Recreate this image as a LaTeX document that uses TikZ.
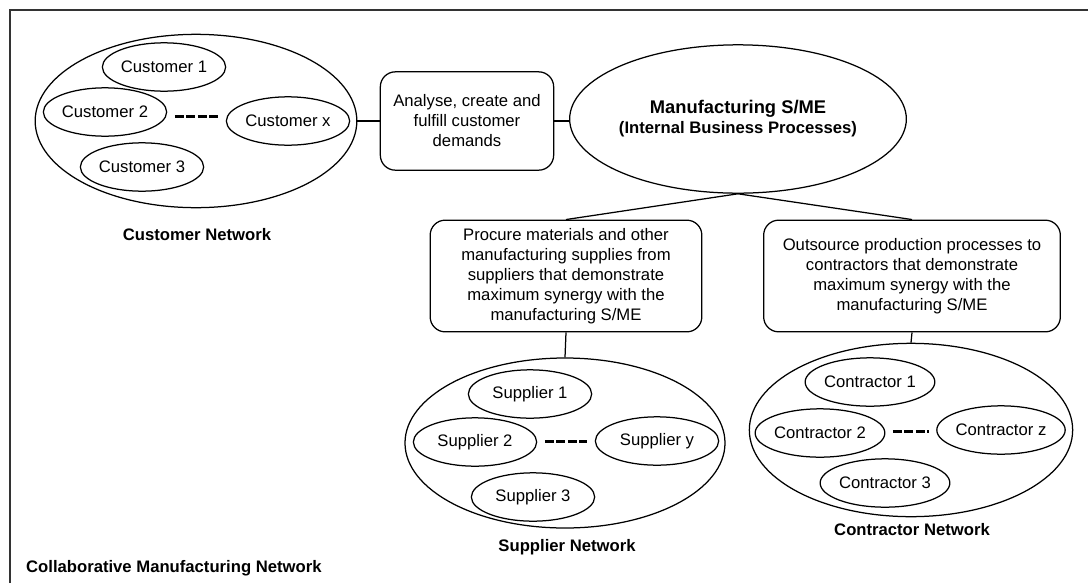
\documentclass[tikz,border=0pt]{standalone}
\usepackage{fontspec}
\setmainfont{Liberation Sans}
\usetikzlibrary{shapes.geometric,calc}

\begin{document}
\begin{tikzpicture}[x=0.6pt,y=-0.6pt,line width=0.75pt,
        member/.style={draw, ellipse, inner sep=0pt, minimum width=74pt, minimum height=29pt},
        network/.style={draw, ellipse, inner sep=0pt},
        task/.style={draw, rounded corners=9pt, align=center, inner sep=0pt},
        netlabel/.style={font=\bfseries},
        gapline/.style={line width=1.8pt, dash pattern=on 5.4pt off 1.5pt, shorten <=4.5pt, shorten >=4.5pt}]
        \useasboundingbox (0,0) rectangle (1088,583);
        % outer frame
        \draw[line width=0.9pt, black!80] (10,583) -- (10,10) -- (1088,10);

        % customers
        \node (custnet) [network, minimum width=193pt, minimum height=104pt] at (196,121) {};
        \node (cust1) [member] at (164,67) {Customer 1};
        \node (cust2) [member] at (105,112) {Customer 2};
        \node (custx) [member] at (288,121) {Customer x};
        \node (cust3) [member] at (142,167) {Customer 3};
        \node (custlabel) [netlabel] at (197,235) {Customer Network};

        % manufacturer and its processes
        \node (demand) [task, minimum width=104pt, minimum height=59pt] at (467,121) {Analyse, create and\\fulfill customer\\demands};
        \node (sme) [network, minimum width=191pt, minimum height=89pt, align=center] at (738,119)
            {{\fontsize{11}{13}\selectfont\bfseries Manufacturing S/ME}\\{\bfseries (Internal Business Processes)}};
        \node (procure) [task, minimum width=163pt, minimum height=67pt] at (566,276) {Procure materials and other\\manufacturing supplies from\\suppliers that demonstrate\\maximum synergy with the\\manufacturing S/ME};
        \node (outsource) [task, minimum width=178pt, minimum height=67pt] at (912,276) {Outsource production processes to\\contractors that demonstrate\\maximum synergy with the\\manufacturing S/ME};

        % suppliers
        \node (supnet) [network, minimum width=192pt, minimum height=102pt] at (565,443) {};
        \node (sup1) [member] at (530,394) {Supplier 1};
        \node (sup2) [member] at (475,442) {Supplier 2};
        \node (supy) [member] at (657,441) {Supplier y};
        \node (sup3) [member] at (533,497) {Supplier 3};
        \node (suplabel) [netlabel] at (567,547) {Supplier Network};

        % contractors
        \node (connet) [network, minimum width=194pt, minimum height=104pt] at (911,430) {};
        \node (con1) [member] at (870,382) {Contractor 1};
        \node (con2) [member] at (820,433) {Contractor 2};
        \node (conz) [member] at (1001,430) {Contractor z};
        \node (con3) [member] at (885,483) {Contractor 3};
        \node (conlabel) [netlabel] at (912,530) {Contractor Network};

        \node (cmnlabel) [netlabel, anchor=west] at (20,568) {Collaborative Manufacturing Network};

        % links
        \draw (custnet) -- (demand);
        \draw (demand) -- (demand -| sme.west);
        \draw (sme.south) -- (procure.north);
        \draw (sme.south) -- (outsource.north);
        \draw (procure.south) -- (supnet.north);
        \draw (outsource.south) -- (connet.north);

        % "and so on" gaps
        \coordinate (cgap) at ($(cust2.east)!.5!(custx.west)$);
        \coordinate (sgap) at ($(sup2.east)!.5!(supy.west)$);
        \coordinate (kgap) at ($(con2.east)!.5!(conz.west)$);
        \draw[gapline] (cust2.east |- cgap) -- (custx.west |- cgap);
        \draw[gapline] (sup2.east |- sgap) -- (supy.west |- sgap);
        \draw[gapline] (con2.east |- kgap) -- (conz.west |- kgap);
    \end{tikzpicture}
\end{document}
